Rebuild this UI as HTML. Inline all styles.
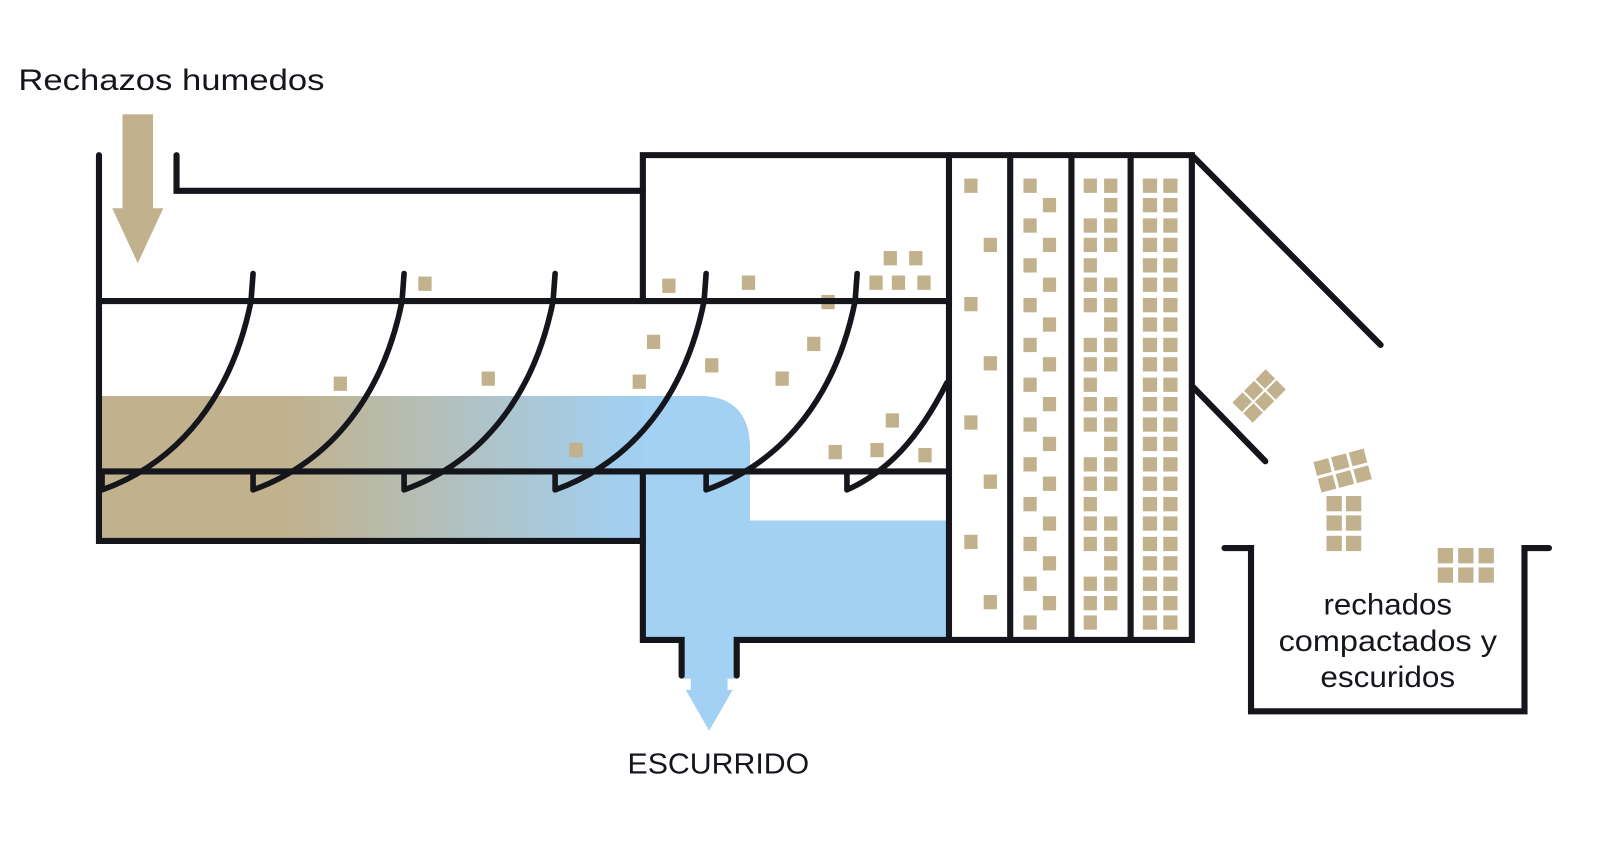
<!DOCTYPE html>
<html><head><meta charset="utf-8"><style>
html,body{margin:0;padding:0;background:#fff;}
svg{display:block}
text{font-family:"Liberation Sans",sans-serif;fill:#15151c}
</style></head><body>
<svg width="1600" height="844" viewBox="0 0 1568 827" preserveAspectRatio="none" xmlns="http://www.w3.org/2000/svg">
<defs>
<linearGradient id="g" x1="100" y1="0" x2="700" y2="0" gradientUnits="userSpaceOnUse">
<stop offset="0" stop-color="#c1b28d"/><stop offset="0.3" stop-color="#c1b28d"/><stop offset="0.85" stop-color="#a2cff0"/><stop offset="1" stop-color="#a2d1f3"/>
</linearGradient>
</defs>
<rect width="1568" height="827" fill="#fff"/>
<text x="18" y="88" font-size="29" textLength="300" lengthAdjust="spacingAndGlyphs">Rechazos humedos</text>
<rect x="120" y="112" width="30" height="94" fill="#c1b28d"/>
<polygon points="110,204 160,204 135,258" fill="#c1b28d"/>
<path d="M98,388 H685 Q735,388 735,440 V510 H928 V625 H722 V662 H668 V625 H630 V530 H98 Z" fill="url(#g)"/>
<path d="M630,388 H685 Q735,388 735,440 V510 H928 V625 H630 Z" fill="#a2d1f3"/>
<rect x="668" y="620" width="54" height="45" fill="#a2d1f3"/>
<polygon points="672,676 718,676 695,716" fill="#a2d1f3"/>
<rect x="677" y="662" width="36" height="16" fill="#a2d1f3"/>
<g fill="#c1b28d">
<rect x="410" y="271" width="13" height="14"/><rect x="649" y="273" width="13" height="14"/><rect x="727" y="270" width="13" height="14"/><rect x="805" y="289" width="13" height="14"/>
<rect x="866" y="246" width="13" height="14"/><rect x="891" y="246" width="13" height="14"/><rect x="852" y="270" width="13" height="14"/><rect x="874" y="270" width="13" height="14"/><rect x="899" y="270" width="13" height="14"/>
<rect x="634" y="328" width="13" height="14"/><rect x="791" y="330" width="13" height="14"/><rect x="327" y="369" width="13" height="14"/><rect x="472" y="364" width="13" height="14"/><rect x="691" y="351" width="13" height="14"/><rect x="620" y="367" width="13" height="14"/><rect x="760" y="364" width="13" height="14"/>
<rect x="868" y="405" width="13" height="14"/><rect x="558" y="434" width="13" height="14"/><rect x="812" y="436" width="13" height="14"/><rect x="853" y="434" width="13" height="14"/><rect x="900" y="439" width="13" height="14"/>
</g>
<g fill="#c1b28d">
<g transform="translate(1234,388) rotate(-45)"><rect x="-23" y="-14" width="14" height="13"/><rect x="-7" y="-14" width="14" height="13"/><rect x="9" y="-14" width="14" height="13"/><rect x="-23" y="1" width="14" height="13"/><rect x="-7" y="1" width="14" height="13"/><rect x="9" y="1" width="14" height="13"/></g>
<g transform="translate(1318,460) rotate(-15)"><rect x="-28" y="-15" width="15" height="14"/><rect x="-10" y="-15" width="15" height="14"/><rect x="8" y="-15" width="15" height="14"/><rect x="-28" y="2" width="15" height="14"/><rect x="-10" y="2" width="15" height="14"/><rect x="8" y="2" width="15" height="14"/></g>
<rect x="1300" y="486" width="15" height="15"/><rect x="1319" y="486" width="15" height="15"/><rect x="1300" y="505" width="15" height="15"/><rect x="1319" y="505" width="15" height="15"/><rect x="1300" y="525" width="15" height="15"/><rect x="1319" y="525" width="15" height="15"/>
<rect x="1409" y="537" width="15" height="15"/><rect x="1429" y="537" width="15" height="15"/><rect x="1449" y="537" width="15" height="15"/><rect x="1409" y="556" width="15" height="15"/><rect x="1429" y="556" width="15" height="15"/><rect x="1449" y="556" width="15" height="15"/>
</g>
<g fill="none" stroke="#15151c" stroke-width="6" stroke-linecap="round" stroke-linejoin="miter">
<path d="M97,152 V530 H630"/>
<path d="M173,152 V187 H630"/>
<path d="M630,295 V152 H1168 V627 H722 V662"/>
<path d="M668,662 V627 H630 V462"/>
<path d="M97,295 H930"/><path d="M97,462 H930"/>
<path d="M930,152 V627"/><path d="M990,152 V627"/><path d="M1050,152 V627"/><path d="M1108,152 V627"/>
<path d="M1168,152 L1353,338"/><path d="M1168,378 L1240,452"/>
<path d="M1200,537 H1226 V697 H1494 V537 H1518"/>
</g>
<g fill="none" stroke="#15151c" stroke-width="5.5" stroke-linecap="round" stroke-linejoin="round">
<path d="M248,268 L246,295 C228,385 178,452 100,480 M100,462 V480"/>
<path d="M396,268 L394,295 C376,385 326,452 248,480 M248,462 V480"/>
<path d="M544,268 L542,295 C524,385 474,452 396,480 M396,462 V480"/>
<path d="M692,268 L690,295 C672,385 622,452 544,480 M544,462 V480"/>
<path d="M840,268 L838,295 C820,385 770,452 692,480 M692,462 V480"/>
<path d="M928,375 C900,430 870,462 830,480 M830,462 V480"/>
</g>
<text x="615" y="758" font-size="28" textLength="178" lengthAdjust="spacingAndGlyphs">ESCURRIDO</text>
<text x="1360" y="602" font-size="29" text-anchor="middle" textLength="126" lengthAdjust="spacingAndGlyphs">rechados</text>
<text x="1360" y="638" font-size="29" text-anchor="middle" textLength="214" lengthAdjust="spacingAndGlyphs">compactados y</text>
<text x="1360" y="673" font-size="29" text-anchor="middle" textLength="132" lengthAdjust="spacingAndGlyphs">escuridos</text>
<g fill="#c1b28d">
<rect x="945" y="175" width="13" height="14"/><rect x="964" y="233" width="13" height="14"/><rect x="945" y="291" width="13" height="14"/><rect x="964" y="349" width="13" height="14"/><rect x="945" y="407" width="13" height="14"/><rect x="964" y="465" width="13" height="14"/><rect x="945" y="524" width="13" height="14"/><rect x="964" y="583" width="13" height="14"/>
<rect x="1003" y="175" width="13" height="14"/><rect x="1022" y="194" width="13" height="14"/><rect x="1003" y="214" width="13" height="14"/><rect x="1022" y="233" width="13" height="14"/><rect x="1003" y="253" width="13" height="14"/><rect x="1022" y="272" width="13" height="14"/><rect x="1003" y="292" width="13" height="14"/><rect x="1022" y="311" width="13" height="14"/><rect x="1003" y="331" width="13" height="14"/><rect x="1022" y="350" width="13" height="14"/><rect x="1003" y="370" width="13" height="14"/><rect x="1022" y="389" width="13" height="14"/><rect x="1003" y="409" width="13" height="14"/><rect x="1022" y="428" width="13" height="14"/><rect x="1003" y="448" width="13" height="14"/><rect x="1022" y="467" width="13" height="14"/><rect x="1003" y="487" width="13" height="14"/><rect x="1022" y="506" width="13" height="14"/><rect x="1003" y="526" width="13" height="14"/><rect x="1022" y="545" width="13" height="14"/><rect x="1003" y="565" width="13" height="14"/><rect x="1022" y="584" width="13" height="14"/><rect x="1003" y="603" width="13" height="14"/>
</g>
<g fill="#c1b28d">
<rect x="1062" y="175" width="13" height="14"/><rect x="1082" y="175" width="13" height="14"/><rect x="1082" y="194" width="13" height="14"/><rect x="1062" y="214" width="13" height="14"/><rect x="1082" y="214" width="13" height="14"/><rect x="1062" y="233" width="13" height="14"/><rect x="1082" y="233" width="13" height="14"/><rect x="1062" y="253" width="13" height="14"/><rect x="1062" y="272" width="13" height="14"/><rect x="1082" y="272" width="13" height="14"/><rect x="1062" y="292" width="13" height="14"/><rect x="1082" y="292" width="13" height="14"/><rect x="1082" y="311" width="13" height="14"/><rect x="1062" y="331" width="13" height="14"/><rect x="1082" y="331" width="13" height="14"/><rect x="1062" y="350" width="13" height="14"/><rect x="1082" y="350" width="13" height="14"/><rect x="1062" y="370" width="13" height="14"/><rect x="1062" y="389" width="13" height="14"/><rect x="1082" y="389" width="13" height="14"/><rect x="1062" y="409" width="13" height="14"/><rect x="1082" y="409" width="13" height="14"/><rect x="1082" y="428" width="13" height="14"/><rect x="1062" y="448" width="13" height="14"/><rect x="1082" y="448" width="13" height="14"/><rect x="1062" y="467" width="13" height="14"/><rect x="1082" y="467" width="13" height="14"/><rect x="1062" y="487" width="13" height="14"/><rect x="1062" y="506" width="13" height="14"/><rect x="1082" y="506" width="13" height="14"/><rect x="1062" y="526" width="13" height="14"/><rect x="1082" y="526" width="13" height="14"/><rect x="1082" y="545" width="13" height="14"/><rect x="1062" y="565" width="13" height="14"/><rect x="1082" y="565" width="13" height="14"/><rect x="1062" y="584" width="13" height="14"/><rect x="1082" y="584" width="13" height="14"/><rect x="1062" y="603" width="13" height="14"/>
</g>
<g fill="#c1b28d">
<rect x="1120" y="175" width="14" height="14"/><rect x="1140" y="175" width="14" height="14"/><rect x="1120" y="194" width="14" height="14"/><rect x="1140" y="194" width="14" height="14"/><rect x="1120" y="214" width="14" height="14"/><rect x="1140" y="214" width="14" height="14"/><rect x="1120" y="233" width="14" height="14"/><rect x="1140" y="233" width="14" height="14"/><rect x="1120" y="253" width="14" height="14"/><rect x="1140" y="253" width="14" height="14"/><rect x="1120" y="272" width="14" height="14"/><rect x="1140" y="272" width="14" height="14"/><rect x="1120" y="292" width="14" height="14"/><rect x="1140" y="292" width="14" height="14"/><rect x="1120" y="311" width="14" height="14"/><rect x="1140" y="311" width="14" height="14"/><rect x="1120" y="331" width="14" height="14"/><rect x="1140" y="331" width="14" height="14"/><rect x="1120" y="350" width="14" height="14"/><rect x="1140" y="350" width="14" height="14"/><rect x="1120" y="370" width="14" height="14"/><rect x="1140" y="370" width="14" height="14"/><rect x="1120" y="389" width="14" height="14"/><rect x="1140" y="389" width="14" height="14"/><rect x="1120" y="409" width="14" height="14"/><rect x="1140" y="409" width="14" height="14"/><rect x="1120" y="428" width="14" height="14"/><rect x="1140" y="428" width="14" height="14"/><rect x="1120" y="448" width="14" height="14"/><rect x="1140" y="448" width="14" height="14"/><rect x="1120" y="467" width="14" height="14"/><rect x="1140" y="467" width="14" height="14"/><rect x="1120" y="487" width="14" height="14"/><rect x="1140" y="487" width="14" height="14"/><rect x="1120" y="506" width="14" height="14"/><rect x="1140" y="506" width="14" height="14"/><rect x="1120" y="526" width="14" height="14"/><rect x="1140" y="526" width="14" height="14"/><rect x="1120" y="545" width="14" height="14"/><rect x="1140" y="545" width="14" height="14"/><rect x="1120" y="565" width="14" height="14"/><rect x="1140" y="565" width="14" height="14"/><rect x="1120" y="584" width="14" height="14"/><rect x="1140" y="584" width="14" height="14"/><rect x="1120" y="603" width="14" height="14"/><rect x="1140" y="603" width="14" height="14"/>
</g>
</svg>
</body></html>
